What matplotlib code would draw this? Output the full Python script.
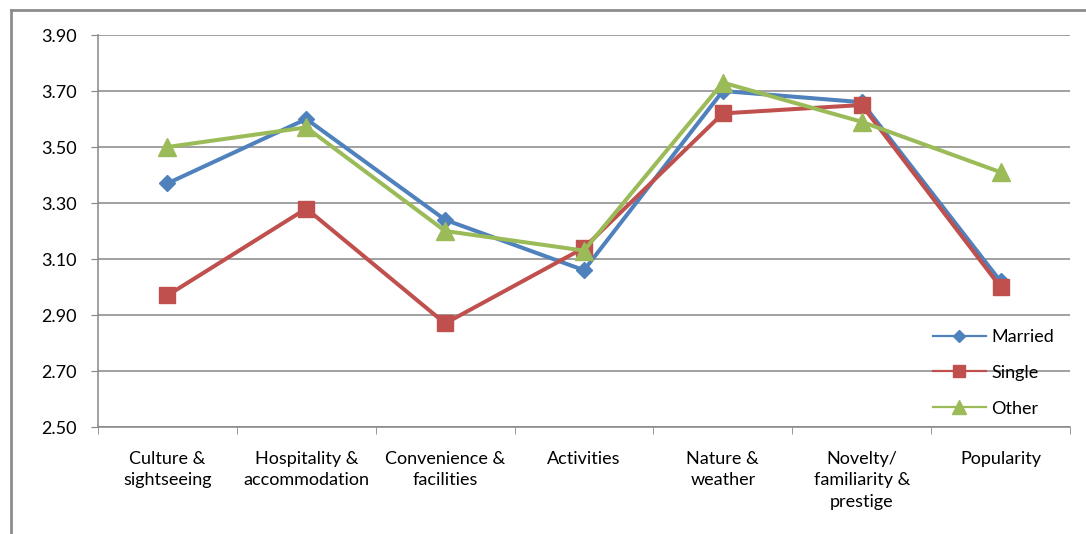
"""Line chart: mean factor scores by marital status"""

import matplotlib
matplotlib.use("Agg")
import matplotlib.pyplot as plt
from matplotlib.lines import Line2D
from matplotlib.ticker import FixedLocator

categories = ["Culture &\nsightseeing", "Hospitality &\naccommodation",
              "Convenience &\nfacilities", "Activities", "Nature &\nweather",
              "Novelty/\nfamiliarity &\nprestige", "Popularity"]
married = [3.37, 3.60, 3.24, 3.06, 3.70, 3.66, 3.02]
single = [2.97, 3.28, 2.87, 3.14, 3.62, 3.65, 3.00]
other = [3.50, 3.57, 3.20, 3.13, 3.73, 3.59, 3.41]
y_ticks = [2.50, 2.70, 2.90, 3.10, 3.30, 3.50, 3.70, 3.90]

plt.rcParams["font.family"] = ["Lato", "DejaVu Sans"]

fig = plt.figure(figsize=(10.86, 5.34), dpi=100)
ax = fig.add_axes([98 / 1086, 1 - 427 / 534, 972 / 1086, 392 / 534])

x = range(len(categories))
ax.plot(x, married, color="#4F81BD", lw=2.9, marker="D", ms=8.5,
        label="Married", zorder=3)
ax.plot(x, single, color="#C0504D", lw=2.9, marker="s", ms=11.5,
        label="Single", zorder=3)
ax.plot(x, other, color="#9BBB59", lw=2.9, marker="^", ms=12.5,
        label="Other", zorder=4)

ax.set_xlim(-0.5, len(categories) - 0.5)
ax.set_ylim(2.5, 3.9)
ax.set_yticks(y_ticks)
ax.set_yticklabels([f"{v:.2f}" for v in y_ticks])
ax.set_xticks(list(x))
ax.set_xticklabels(categories, linespacing=1.45)
ax.xaxis.set_minor_locator(FixedLocator([i - 0.5 for i in range(len(categories) + 1)]))

ax.tick_params(axis="x", which="major", length=0, pad=17, labelsize=13)
ax.tick_params(axis="x", which="minor", length=5, color="#868686", direction="out")
ax.tick_params(axis="y", length=5, color="#868686", pad=10, labelsize=13)

ax.grid(axis="y", color="#868686", lw=1.1)
ax.set_axisbelow(True)
for side in ["top", "right"]:
    ax.spines[side].set_visible(False)
for side in ["left", "bottom"]:
    ax.spines[side].set_color("#868686")
    ax.spines[side].set_linewidth(1.1)

leg = ax.legend(loc="lower right", bbox_to_anchor=(1.0, -0.015), frameon=False,
                fontsize=13, handlelength=2.9, labelspacing=1.1,
                handletextpad=0.3, markerscale=0.75)
for h in leg.get_lines():
    h.set_linewidth(1.6)

# outer chart border
fig.add_artist(Line2D([11 / 1086, 11 / 1086], [0, 1 - 10 / 534],
                      transform=fig.transFigure, color="#8c8c8c", lw=2))
fig.add_artist(Line2D([11 / 1086, 1], [1 - 10 / 534, 1 - 10 / 534],
                      transform=fig.transFigure, color="#8c8c8c", lw=2))

plt.savefig("out.png", dpi=100)
plt.close()
